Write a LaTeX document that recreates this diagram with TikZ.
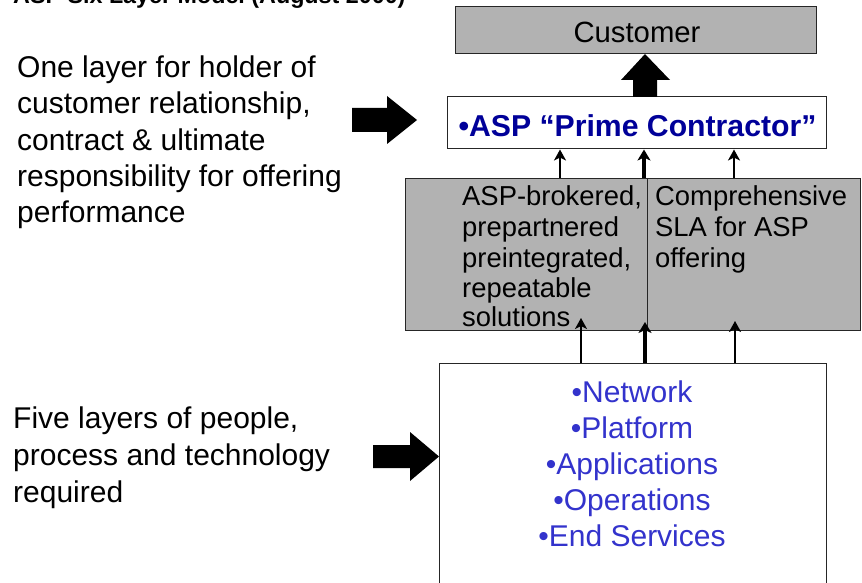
\documentclass[tikz,border=0pt]{standalone}
\usepackage{fontspec}
\setmainfont{Liberation Sans}
\usetikzlibrary{arrows.meta}
\definecolor{boxgray}{RGB}{178,178,178}
\definecolor{listblue}{RGB}{51,51,204}
\definecolor{primeblue}{RGB}{0,0,153}
\tikzset{
  layerbox/.style={draw=black!85, line width=1pt, inner sep=0pt},
  graybox/.style={layerbox, fill=boxgray},
  whitebox/.style={layerbox, fill=white},
  txt/.style={inner sep=0pt, anchor=base west, font=\fontsize{30}{36}\selectfont},
  smalltxt/.style={inner sep=0pt, anchor=base west, font=\fontsize{27.4}{30}\selectfont},
  listtxt/.style={inner sep=0pt, anchor=base, text=listblue, font=\fontsize{30}{36}\selectfont},
  thinarrow/.style={line width=2.6pt, -{Stealth[length=11pt,width=12pt,inset=3pt]}},
  thickarrow/.style={line width=3.6pt, -{Stealth[length=11pt,width=13pt,inset=3pt]}},
  blockarrow/.style={fill=black, draw=none}
}
\begin{document}
\begin{tikzpicture}[x=1pt,y=-1pt]
\useasboundingbox (0,0) rectangle (862,583);
\fill[white] (0,0) rectangle (862,583);

% title (cut off at the top, as in the reference)
\node[inner sep=0pt, anchor=base west, font=\fontsize{23.3}{28}\selectfont\bfseries] (title) at (13,4) {ASP Six Layer Model (August 2000)};

% boxes
\node[graybox, minimum width=361pt, minimum height=47pt] (customer) at (635.5,30.5) {};
\node[inner sep=0pt, anchor=base, font=\fontsize{29.3}{34}\selectfont] (customertxt) at (637,43) {Customer};

\node[whitebox, minimum width=379pt, minimum height=52pt] (asp) at (636.5,123) {};
\node[inner sep=0pt, anchor=base, text=primeblue, font=\fontsize{30.2}{36}\selectfont\bfseries] (asptxt) at (637.5,137) {•ASP “Prime Contractor”};

\node[graybox, minimum width=455pt, minimum height=152pt] (mid) at (632.5,254) {};
\draw[black!85, line width=1pt] (647,178) -- (647,330);

\node[smalltxt] (m1) at (462,205) {ASP-brokered,};
\node[smalltxt] (m2) at (462,236) {prepartnered};
\node[smalltxt] (m3) at (462,267) {preintegrated,};
\node[smalltxt] (m4) at (462,297) {repeatable};
\node[smalltxt] (m5) at (462,326) {solutions};

\node[smalltxt] (s1) at (655,205) {Comprehensive};
\node[smalltxt] (s2) at (655,236) {SLA for ASP};
\node[smalltxt] (s3) at (655,267) {offering};

\node[whitebox, minimum width=387pt, minimum height=240pt] (base) at (632.5,483) {};
\node[listtxt] (l1) at (632,402) {•Network};
\node[listtxt] (l2) at (632,438) {•Platform};
\node[listtxt] (l3) at (632,474) {•Applications};
\node[listtxt] (l4) at (632,510) {•Operations};
\node[listtxt] (l5) at (632,546) {•End Services};

% left texts
\node[txt] (a1) at (17,78) {One layer for holder of};
\node[txt] (a2) at (17,114) {customer relationship,};
\node[txt] (a3) at (17,150) {contract \& ultimate};
\node[txt] (a4) at (17,186) {responsibility for offering};
\node[txt] (a5) at (17,222) {performance};

\node[txt] (b1) at (13,428) {Five layers of people,};
\node[txt] (b2) at (13,465) {process and technology};
\node[txt] (b3) at (13,502) {required};

% block arrows
\fill[blockarrow] (633,97) -- (633,80) -- (621,80) -- (645,54) -- (670,80) -- (657,80) -- (657,97) -- cycle;
\fill[blockarrow] (352,108) -- (387,108) -- (387,96) -- (417,120) -- (387,144) -- (387,132) -- (352,132) -- cycle;
\fill[blockarrow] (373,445) -- (410,445) -- (410,432) -- (439,456.5) -- (410,481) -- (410,468) -- (373,468) -- cycle;

% small arrows mid -> asp
\coordinate (t1) at (560,178);
\coordinate (t2) at (644,178);
\coordinate (t3) at (734,178);
\draw[thinarrow] (t1) -- (t1 |- asp.south);
\draw[thickarrow] (t2) -- (t2 |- asp.south);
\draw[thinarrow] (t3) -- (t3 |- asp.south);

% small arrows base -> mid
\coordinate (u1) at (581,363);
\coordinate (u2) at (645,363);
\coordinate (u3) at (735,363);
\draw[thinarrow] (u1) -- (581,318);
\draw[thickarrow] (u2) -- (645,322);
\draw[thinarrow] (u3) -- (735,321);
\end{tikzpicture}
\end{document}
